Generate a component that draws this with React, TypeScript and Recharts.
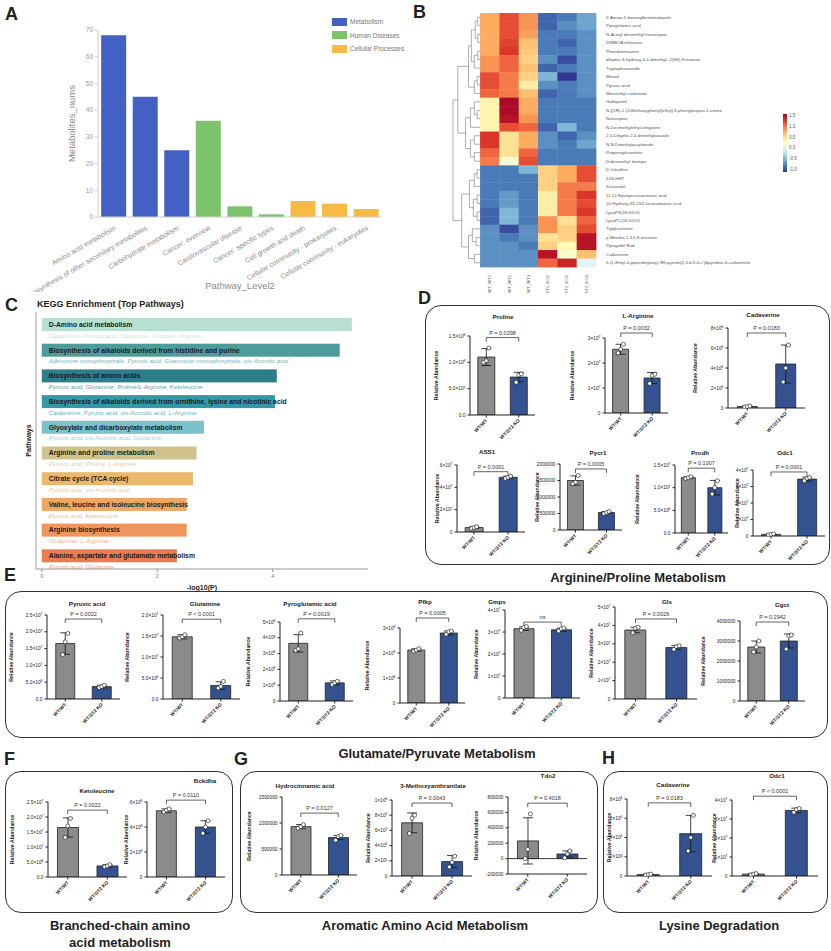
import React from "react";
import {
  BarChart,
  Bar,
  XAxis,
  YAxis,
  Cell,
  ComposedChart,
  Scatter,
  ScatterChart,
  ErrorBar,
  ReferenceLine,
} from "recharts";

const FONT = "'Liberation Sans', Arial, Helvetica, sans-serif";
const INK = "#222";
const WT_FILL = "#8b8b8b";
const KO_FILL = "#34528f";

// ---------- A: KEGG level-2 counts ----------
const level2Names = [
  "Amino acid metabolism",
  "Biosynthesis of other secondary metabolites",
  "Carbohydrate metabolism",
  "Cancer: overview",
  "Cardiovascular disease",
  "Cancer: specific types",
  "Cell growth and death",
  "Cellular community - prokaryotes",
  "Cellular community - eukaryotes",
];
const level2Counts = [68, 45, 25, 36, 4, 1, 6, 5, 3];
const level2Class = [
  "Metabolism", "Metabolism", "Metabolism",
  "Human Diseases", "Human Diseases", "Human Diseases",
  "Cellular Processes", "Cellular Processes", "Cellular Processes",
];
const level1Names = ["Metabolism", "Human Diseases", "Cellular Processes"];
const level1Colors = ["#4361c3", "#7dc36b", "#f6ba45"];

// ---------- B: heatmap ----------
const heatRows = [
  "2-Amino-5-benzoylbenzimidazole",
  "Pyroglutamic acid",
  "N-Acetyl desmethyl frovatriptan",
  "DIMBOA trihexose",
  "Phendimetrazine",
  "dihydro-3-hydroxy-4,4-dimethyl- 2(3H)-Furanone",
  "Tryptophanamide",
  "Mioxol",
  "Pyruvic acid",
  "Monoethyl carbonate",
  "Gallopamil",
  "N-[(1R)-1-(3-Methoxyphenyl)ethyl]-3-phenylpropan-1-amine",
  "Naratriptan",
  "N-Desmethylethyl-rotigotine",
  "2,5-Dihydro-2,4-dimethyloxazole",
  "N,N-Dimethylacrylamide",
  "Propenoylcarnitine",
  "Didesmethyl doxepin",
  "D-Citrulline",
  "12S-HHT",
  "Sclareolol",
  "11,12-Epoxyeicosatrienoic acid",
  "20-Hydroxy-6Z,15Z-eicosadienoic acid",
  "LysoPS(18:0/0:0)",
  "LysoPC(16:0/0:0)",
  "Tiglylcarnitine",
  "p-Mentha-1,3,5,8-tetraene",
  "Pyrogallol Red",
  "Cadaverine",
  "5-(1-Ethyl-4-piperidinyloxy)-9H-pyrrolo[2,3-b:5,4-c']dipyridine-6-carbonitrile",
];
const heatCols = ["WT_WT1", "WT_WT2", "WT_WT3", "ST2_KO1", "ST2_KO2", "ST2_KO3"];
const heatZ = [
  [0.8, 1.2, 0.9, -0.9, -0.8, -0.6],
  [0.8, 1.2, 0.9, -0.9, -0.7, -0.6],
  [0.8, 1.2, 0.85, -0.8, -0.8, -0.7],
  [0.8, 1.25, 0.7, -0.8, -0.9, -0.7],
  [0.8, 1.3, 0.65, -0.8, -0.8, -0.7],
  [0.9, 1.1, 0.6, -0.7, -1.0, -0.7],
  [0.9, 1.1, 0.7, -0.9, -0.8, -0.7],
  [1.2, 1.0, 0.6, -0.5, -1.1, -0.7],
  [1.2, 1.0, 0.4, -0.7, -0.8, -0.7],
  [1.1, 1.0, 0.7, -0.9, -0.8, -0.7],
  [0.35, 1.55, 0.8, -0.8, -0.8, -0.8],
  [0.35, 1.55, 0.8, -0.8, -0.8, -0.8],
  [0.35, 1.5, 0.9, -0.8, -0.8, -0.8],
  [0.35, 1.2, 1.1, -0.9, -0.5, -0.8],
  [1.3, 0.5, 0.8, -0.7, -0.9, -0.7],
  [1.3, 0.5, 0.8, -0.7, -0.8, -0.6],
  [1.1, 0.5, 1.1, -0.8, -0.8, -0.8],
  [1.0, 0.15, 1.2, -0.8, -0.8, -0.8],
  [-0.8, -0.8, -0.5, 0.6, 0.8, 1.2],
  [-0.8, -0.8, -0.8, 0.6, 0.8, 1.2],
  [-0.8, -0.8, -0.8, 0.6, 1.0, 1.0],
  [-0.8, -0.65, -0.8, 0.4, 1.0, 1.3],
  [-0.8, -0.65, -0.8, 0.4, 1.0, 1.2],
  [-0.9, -0.5, -0.8, 0.4, 1.0, 1.3],
  [-0.9, -0.5, -0.8, 0.9, 0.5, 1.1],
  [-0.7, -1.0, -0.7, 0.9, 0.6, 1.2],
  [-0.7, -0.8, -0.7, 0.5, 0.6, 1.5],
  [-0.7, -0.7, -0.8, 0.6, 0.3, 1.5],
  [-0.7, -0.7, -0.7, 1.5, 0.2, 0.7],
  [-0.7, -0.7, -0.7, 1.1, 1.4, 0.0],
];
type Tree = number | [number, Tree, Tree];
const dendroTop: Tree = [
  1.15,
  [0.6, [0.45, [0.25, [0.12, 0, 1], [0.12, 2, 3]], [0.3, [0.12, 4, 5], 6]], [0.3, [0.15, 7, 8], 9]],
  [0.75, [0.5, [0.3, 10, [0.15, 11, 12]], 13], [0.5, [0.3, 14, 15], [0.3, 16, 17]]],
];
const dendroBottom: Tree = [
  0.95,
  [0.55, [0.3, [0.15, 18, 19], 20], [0.35, [0.15, 21, 22], [0.15, 23, 24]]],
  [0.6, [0.4, 25, [0.2, 26, 27]], [0.3, 28, 29]],
];
const dendrogram: Tree = [1.4, dendroTop, dendroBottom];
const heatStops = ["#313695", "#4575b4", "#74add1", "#abd9e9", "#e0f3f8", "#ffffbf", "#fee090", "#fdae61", "#f46d43", "#d73027", "#a50026"];
const colorbarTicks = [1.5, 1.0, 0.5, 0.0, -0.5, -1.0];

// ---------- C: KEGG enrichment ----------
const keggPathways = [
  "D-Amino acid metabolism",
  "Biosynthesis of alkaloids derived from histidine and purine",
  "Biosynthesis of amino acids",
  "Biosynthesis of alkaloids derived from ornithine, lysine and nicotinic acid",
  "Glyoxylate and dicarboxylate metabolism",
  "Arginine and proline metabolism",
  "Citrate cycle (TCA cycle)",
  "Valine, leucine and isoleucine biosynthesis",
  "Arginine biosynthesis",
  "Alanine, aspartate and glutamate metabolism",
];
const keggLogP = [5.37, 5.16, 4.07, 4.04, 2.81, 2.68, 2.62, 2.51, 2.51, 2.34];
const keggHits = [
  "Cadaverine, Pyruvic acid, Glutamine, Proline/L-Arginine",
  "Adenosine monophosphate, Pyruvic acid, Guanosine monophosphate, cis-Aconitic acid",
  "Pyruvic acid, Glutamine, Proline/L-Arginine, Ketoleucine",
  "Cadaverine, Pyruvic acid, cis-Aconitic acid, L-Arginine",
  "Pyruvic acid, cis-Aconitic acid, Glutamine",
  "Pyruvic acid, Proline, L-Arginine",
  "Pyruvic acid, cis-Aconitic acid",
  "Pyruvic acid, Ketoleucine",
  "Glutamine, L-Arginine",
  "Pyruvic acid, Glutamine",
];
const keggPalette = ["#b7e0d1", "#4d9c9b", "#2c7e8b", "#3598a8", "#7cc2c9", "#d0c28b", "#eab76b", "#eea663", "#ee965b", "#eb7c51"];

// ---------- D-H: group abundances ----------
const WT = "WT/WT";
const KO = "WT/ST2 KO";
type Grp = { group: string; mean: number; sd: number; pts: number[] };

const proline: Grp[] = [
  { group: WT, mean: 1.1e8, sd: 1.6e7, pts: [1.0e8, 1.03e8, 1.27e8] },
  { group: KO, mean: 7.2e7, sd: 9e6, pts: [6.2e7, 7.6e7, 7.8e7] },
];
const arginine: Grp[] = [
  { group: WT, mean: 2.55e7, sd: 2e6, pts: [2.4e7, 2.55e7, 2.75e7] },
  { group: KO, mean: 1.4e7, sd: 2.2e6, pts: [1.18e7, 1.5e7, 1.55e7] },
];
const cadaverine: Grp[] = [
  { group: WT, mean: 1.5e5, sd: 5e4, pts: [1e5, 1.5e5, 2e5] },
  { group: KO, mean: 4.4e6, sd: 1.9e6, pts: [2.6e6, 4.0e6, 6.3e6] },
];
const ass1: Grp[] = [
  { group: WT, mean: 4e6, sd: 8e5, pts: [3.4e6, 4e6, 4.6e6] },
  { group: KO, mean: 4.9e7, sd: 1e6, pts: [4.8e7, 4.9e7, 5.0e7] },
];
const pycr1: Grp[] = [
  { group: WT, mean: 1.5e6, sd: 1.4e5, pts: [1.4e6, 1.45e6, 1.65e6] },
  { group: KO, mean: 5.3e5, sd: 3e4, pts: [5e5, 5.3e5, 5.6e5] },
];
const prodh: Grp[] = [
  { group: WT, mean: 1.22e7, sd: 2e5, pts: [1.2e7, 1.22e7, 1.24e7] },
  { group: KO, mean: 1.0e7, sd: 1.6e6, pts: [0.86e7, 1.0e7, 1.15e7] },
];
const odc1: Grp[] = [
  { group: WT, mean: 1e6, sd: 3e5, pts: [7e5, 1e6, 1.3e6] },
  { group: KO, mean: 3.45e7, sd: 1.2e6, pts: [3.35e7, 3.5e7, 3.55e7] },
];
const pyruvate: Grp[] = [
  { group: WT, mean: 1.65e7, sd: 3.2e6, pts: [1.32e7, 1.7e7, 1.95e7] },
  { group: KO, mean: 3.7e6, sd: 4e5, pts: [3.4e6, 3.7e6, 4.1e6] },
];
const glutamine: Grp[] = [
  { group: WT, mean: 1.48e7, sd: 5e5, pts: [1.45e7, 1.48e7, 1.53e7] },
  { group: KO, mean: 3.2e6, sd: 9e5, pts: [2.6e6, 3.0e6, 4.2e6] },
];
const pyroglutamate: Grp[] = [
  { group: WT, mean: 3.65e8, sd: 5.5e7, pts: [3.2e8, 3.3e8, 4.3e8] },
  { group: KO, mean: 1.15e8, sd: 1.2e7, pts: [1.05e8, 1.15e8, 1.25e8] },
];
const pfkp: Grp[] = [
  { group: WT, mean: 2.12e8, sd: 5e6, pts: [2.07e8, 2.12e8, 2.17e8] },
  { group: KO, mean: 2.8e8, sd: 8e6, pts: [2.75e8, 2.85e8, 2.88e8] },
];
const gmps: Grp[] = [
  { group: WT, mean: 3.15e7, sd: 8e5, pts: [3.08e7, 3.2e7, 3.25e7] },
  { group: KO, mean: 3.1e7, sd: 7e5, pts: [3.05e7, 3.15e7, 3.18e7] },
];
const gls: Grp[] = [
  { group: WT, mean: 3.75e7, sd: 1.5e6, pts: [3.6e7, 3.85e7, 3.9e7] },
  { group: KO, mean: 2.8e7, sd: 1e6, pts: [2.7e7, 2.85e7, 2.9e7] },
];
const ggct: Grp[] = [
  { group: WT, mean: 2.7e6, sd: 3e5, pts: [2.45e6, 2.7e6, 3.0e6] },
  { group: KO, mean: 3.0e6, sd: 3.5e5, pts: [2.6e6, 3.25e6, 3.3e6] },
];
const ketoleucine: Grp[] = [
  { group: WT, mean: 1.65e7, sd: 3.2e6, pts: [1.32e7, 1.7e7, 1.95e7] },
  { group: KO, mean: 3.7e6, sd: 4e5, pts: [3.4e6, 3.7e6, 4.1e6] },
];
const bckdha: Grp[] = [
  { group: WT, mean: 5.3e8, sd: 1.5e7, pts: [5.2e8, 5.35e8, 5.45e8] },
  { group: KO, mean: 4.0e8, sd: 5e7, pts: [3.5e8, 4.0e8, 4.5e8] },
];
const hydrocinnamate: Grp[] = [
  { group: WT, mean: 9.3e5, sd: 4e4, pts: [9e5, 9.3e5, 9.7e5] },
  { group: KO, mean: 7.2e5, sd: 4e4, pts: [6.7e5, 7.4e5, 7.6e5] },
];
const methoxyanthranilate: Grp[] = [
  { group: WT, mean: 7.0e5, sd: 1.3e5, pts: [5.6e5, 7.6e5, 8.0e5] },
  { group: KO, mean: 1.9e5, sd: 8e4, pts: [1.2e5, 1.8e5, 2.6e5] },
];
const tdo2: Grp[] = [
  { group: WT, mean: 2.3e5, sd: 3e5, pts: [0, 1.2e5, 5.8e5] },
  { group: KO, mean: 6e4, sd: 4e4, pts: [1e4, 6e4, 1e5] },
];

type MiniCfg = {
  title: string;
  data: Grp[];
  ticks: number[];
  fmt: "sci0" | "sci1" | "plain";
  p: string;
  bracket: number;
  zero?: boolean;
  // axis x, top tick y, bottom tick y, axis end x, title x, title y, y-label gap
  at: number[];
};

const miniCharts: MiniCfg[] = [
  { title: "Proline", data: proline, ticks: [0, 5e7, 1e8, 1.5e8], fmt: "sci1", p: "P = 0.0298", bracket: 1.47e8, at: [470, 336, 415, 535, 503, 316, 33] },
  { title: "L-Arginine", data: arginine, ticks: [0, 1e7, 2e7, 3e7], fmt: "sci0", p: "P = 0.0032", bracket: 3.2e7, at: [605, 338, 413, 668, 638, 315, 32] },
  { title: "Cadaverine", data: cadaverine, ticks: [0, 2e6, 4e6, 6e6, 8e6], fmt: "sci0", p: "P = 0.0183", bracket: 7.5e6, at: [728, 328, 408, 805, 763, 314, 32] },
  { title: "ASS1", data: ass1, ticks: [0, 2e7, 4e7, 6e7], fmt: "sci0", p: "P = 0.0001", bracket: 5.4e7, at: [457, 465, 532, 525, 487, 451, 19] },
  { title: "Pycr1", data: pycr1, ticks: [0, 500000, 1000000, 1500000, 2000000], fmt: "plain", p: "P = 0.0005", bracket: 1.85e6, at: [560, 464, 530, 622, 598, 452, 22] },
  { title: "Prodh", data: prodh, ticks: [0, 5e6, 1e7, 1.5e7], fmt: "sci1", p: "P = 0.1007", bracket: 1.43e7, at: [675, 465, 533, 728, 700, 452, 37] },
  { title: "Odc1", data: odc1, ticks: [0, 1e7, 2e7, 3e7, 4e7], fmt: "sci0", p: "P = 0.0001", bracket: 3.88e7, at: [753, 470, 536, 825, 785, 452, 15] },
  { title: "Pyruvic acid", data: pyruvate, ticks: [0, 5e6, 1e7, 1.5e7, 2e7, 2.5e7], fmt: "sci1", p: "P = 0.0022", bracket: 2.38e7, at: [47, 615, 699, 120, 87, 603, 35] },
  { title: "Glutamine", data: glutamine, ticks: [0, 5e6, 1e7, 1.5e7, 2e7], fmt: "sci1", p: "P < 0.0001", bracket: 1.9e7, at: [163, 615, 699, 240, 205, 603, 35] },
  { title: "Pyroglutamic acid", data: pyroglutamate, ticks: [0, 1e8, 2e8, 3e8, 4e8, 5e8], fmt: "sci0", p: "P = 0.0019", bracket: 5.2e8, at: [280, 622, 701, 353, 310, 603, 31] },
  { title: "Pfkp", data: pfkp, ticks: [0, 1e8, 2e8, 3e8], fmt: "sci0", p: "P = 0.0005", bracket: 3.4e8, at: [400, 628, 703, 465, 425, 601, 32] },
  { title: "Gmps", data: gmps, ticks: [0, 1e7, 2e7, 3e7, 4e7], fmt: "sci0", p: "ns", bracket: 3.45e7, at: [505, 610, 698, 580, 497, 601, 28] },
  { title: "Gls", data: gls, ticks: [0, 1e7, 2e7, 3e7, 4e7, 5e7], fmt: "sci0", p: "P = 0.0026", bracket: 4.35e7, at: [615, 607, 699, 697, 667, 601, 23] },
  { title: "Ggct", data: ggct, ticks: [0, 1000000, 2000000, 3000000, 4000000], fmt: "plain", p: "P = 0.2942", bracket: 3.95e6, at: [740, 621, 701, 805, 782, 604, 36] },
  { title: "Ketoleucine", data: ketoleucine, ticks: [0, 5e6, 1e7, 1.5e7, 2e7, 2.5e7], fmt: "sci1", p: "P = 0.0022", bracket: 2.23e7, at: [48, 802, 877, 127, 97, 790, 35] },
  { title: "Bckdha", data: bckdha, ticks: [0, 2e8, 4e8, 6e8], fmt: "sci0", p: "P = 0.0110", bracket: 6.15e8, at: [147, 802, 877, 225, 205, 780, 20] },
  { title: "Hydrocinnamic acid", data: hydrocinnamate, ticks: [0, 500000, 1000000, 1500000], fmt: "plain", p: "P = 0.0127", bracket: 1.19e6, at: [282, 797, 875, 357, 305, 785, 32] },
  { title: "3-Methoxyanthranilate", data: methoxyanthranilate, ticks: [0, 2e5, 4e5, 6e5, 8e5, 1e6], fmt: "sci0", p: "P = 0.0043", bracket: 9.6e5, at: [392, 800, 876, 472, 433, 785, 23] },
  { title: "Tdo2", data: tdo2, ticks: [-200000, 0, 200000, 400000, 600000, 800000], fmt: "plain", p: "P = 0.4018", bracket: 7.2e5, zero: true, at: [508, 797, 874, 587, 548, 775, 31] },
  { title: "Cadaverine", data: cadaverine, ticks: [0, 2e6, 4e6, 6e6, 8e6], fmt: "sci0", p: "P = 0.0183", bracket: 7.6e6, at: [627, 799, 876, 712, 673, 784, 17] },
  { title: "Odc1", data: odc1, ticks: [0, 1e7, 2e7, 3e7, 4e7], fmt: "sci0", p: "P < 0.0001", bracket: 4.2e7, at: [732, 800, 876, 818, 777, 775, 17] },
];

// ---------- helpers ----------
function sciParts(v: number, dec: number) {
  const e = Math.floor(Math.log10(Math.abs(v)) + 1e-9);
  const m = v / Math.pow(10, e);
  return { m: m.toFixed(dec), e: String(e) };
}

function hexToRgb(h: string) {
  return [1, 3, 5].map((i) => parseInt(h.slice(i, i + 2), 16));
}
function heatColor(z: number) {
  const t = Math.max(0, Math.min(1, (z + 1.1) / 2.7)) * (heatStops.length - 1);
  const i = Math.min(heatStops.length - 2, Math.floor(t));
  const f = t - i;
  const a = hexToRgb(heatStops[i]);
  const b = hexToRgb(heatStops[i + 1]);
  const c = a.map((v, k) => Math.round(v + (b[k] - v) * f));
  return `rgb(${c[0]},${c[1]},${c[2]})`;
}

type Pt = { x: number; y: number };
function layoutTree(t: Tree, out: Pt[][]): { y: number; h: number } {
  if (typeof t === "number") return { y: t + 0.5, h: 0 };
  const [h, a, b] = t;
  const A = layoutTree(a, out);
  const B = layoutTree(b, out);
  out.push([{ x: -h, y: A.y }, { x: -h, y: B.y }]);
  out.push([{ x: -h, y: A.y }, { x: -A.h, y: A.y }]);
  out.push([{ x: -h, y: B.y }, { x: -B.h, y: B.y }]);
  return { y: (A.y + B.y) / 2, h };
}

// ---------- panels ----------
function PanelA() {
  const rows = level2Names.map((name, i) => ({ name, value: level2Counts[i], cls: level2Class[i] }));
  return (
    <>
      <div style={{ position: "absolute", left: 0, top: 20 }}>
        <BarChart width={390} height={272} data={rows} margin={{ top: 10, right: 8, left: 60, bottom: 0 }} barCategoryGap="10%">
          <XAxis
            dataKey="name"
            interval={0}
            angle={-30}
            textAnchor="end"
            height={75}
            stroke="#cfcfcf"
            tickLine={false}
            tick={{ fontSize: 7, fill: "#8a8a8a" }}
            label={{ value: "Pathway_Level2", position: "insideBottom", offset: 3, fontSize: 9.5, fill: "#8a8a8a" }}
          />
          <YAxis
            domain={[0, 70]}
            ticks={[0, 10, 20, 30, 40, 50, 60, 70]}
            width={38}
            stroke="#cfcfcf"
            tickSize={3}
            tick={{ fontSize: 6.5, fill: "#9a9a9a" }}
            label={{ value: "Metabolites_nums", angle: -90, position: "center", dx: -7, fontSize: 9.5, fill: "#8a8a8a" }}
          />
          <Bar dataKey="value" isAnimationActive={false}>
            {rows.map((r, i) => (
              <Cell key={i} fill={level1Colors[level1Names.indexOf(r.cls)]} />
            ))}
          </Bar>
        </BarChart>
      </div>
      <div style={{ position: "absolute", left: 332, top: 15, fontSize: 6.5, color: "#777" }}>
        {level1Names.map((n, i) => (
          <div key={n} style={{ display: "flex", alignItems: "center", height: 13.5 }}>
            <span style={{ width: 15, height: 8, background: level1Colors[i], marginRight: 3 }} />
            {n}
          </div>
        ))}
      </div>
    </>
  );
}

const CELL_W = 143 / 7.4;
const CELL_H = 254 / 30;
function HeatCell(props: any) {
  const { cx, cy, payload } = props;
  return <rect x={cx - CELL_W / 2} y={cy - CELL_H / 2} width={CELL_W + 0.4} height={CELL_H + 0.4} fill={heatColor(payload.z)} />;
}

function RowTick(props: any) {
  const { x, y, payload } = props;
  return (
    <text x={x + 2} y={y} dy="0.35em" fontSize={4.4} fill="#555" textAnchor="start">
      {heatRows[Math.floor(payload.value)]}
    </text>
  );
}

function ColTick(props: any) {
  const { x, y, payload } = props;
  return (
    <text x={x} y={y} dy="0.35em" fontSize={4.2} fill="#666" textAnchor="end" transform={`rotate(-90 ${x} ${y})`}>
      {heatCols[Math.floor(payload.value)]}
    </text>
  );
}

function PanelB() {
  const cells = heatZ.flatMap((row, r) => row.map((z, c) => ({ x: c + 0.5, y: r + 0.5, z })));
  const segs: Pt[][] = [];
  layoutTree(dendrogram, segs);
  const colTicks = heatCols.map((_, i) => i + 0.5);
  const rowTicks = heatRows.map((_, i) => i + 0.5);
  const grad = [...heatStops].reverse().join(",");
  return (
    <>
      <div style={{ position: "absolute", left: 445, top: 5 }}>
        <ScatterChart width={351} height={292} margin={{ top: 8, right: 0, left: 8, bottom: 0 }}>
          <XAxis
            type="number"
            dataKey="x"
            domain={[-1.4, 6]}
            ticks={colTicks}
            interval={0}
            height={30}
            axisLine={false}
            tickLine={false}
            tick={ColTick}
          />
          <YAxis
            type="number"
            dataKey="y"
            orientation="right"
            reversed
            domain={[0, 30]}
            ticks={rowTicks}
            interval={0}
            width={200}
            axisLine={false}
            tickLine={false}
            tick={RowTick}
          />
          <Scatter data={cells} isAnimationActive={false} shape={HeatCell} />
          {segs.map((s, i) => (
            <ReferenceLine key={i} segment={s} stroke="#777" strokeWidth={0.6} ifOverflow="visible" />
          ))}
        </ScatterChart>
      </div>
      <div style={{ position: "absolute", left: 783, top: 114, width: 4, height: 58, background: `linear-gradient(to bottom, ${grad})` }} />
      {colorbarTicks.map((t) => (
        <div key={t} style={{ position: "absolute", left: 789, top: 114 + ((1.6 - t) / 2.7) * 58 - 3, fontSize: 4.5, color: "#555", lineHeight: "6px" }}>
          {t.toFixed(1)}
        </div>
      ))}
    </>
  );
}

function KeggBar(props: any) {
  const { x, y, width, height, payload } = props;
  const color = keggPalette[payload.i];
  return (
    <g>
      <rect x={x} y={y} width={width} height={height} fill={color} />
      <text x={x + 7} y={y + height / 2} dy="0.35em" fontSize={6.8} fontWeight="bold" fill="#1b1b1b">
        {payload.name}
      </text>
      <text x={x + 7} y={y + height + 4.5} dy="0.35em" fontSize={6.2} fontStyle="italic" fill={color} fillOpacity={0.8}>
        {payload.hits}
      </text>
    </g>
  );
}

function PanelC() {
  const rows = keggPathways.map((name, i) => ({ name, v: keggLogP[i], hits: keggHits[i], i }));
  return (
    <>
      <div style={{ position: "absolute", left: 37, top: 299, fontSize: 9, fontWeight: "bold", whiteSpace: "nowrap" }}>
        KEGG Enrichment (Top Pathways)
      </div>
      <div style={{ position: "absolute", left: 0, top: 300 }}>
        <BarChart layout="vertical" width={378} height={294} data={rows} margin={{ top: 12, right: 10, left: 0, bottom: 0 }}>
          <XAxis
            type="number"
            domain={[-0.1, 5.65]}
            ticks={[0, 2, 4]}
            allowDataOverflow
            height={25}
            stroke="#9a9a9a"
            tickSize={3}
            tick={{ fontSize: 5.5, fill: "#777" }}
            label={{ value: "-log10(P)", position: "insideBottom", offset: 4, fontSize: 7, fontWeight: "bold", fill: INK }}
          />
          <YAxis
            type="category"
            dataKey="name"
            width={36}
            tick={false}
            tickLine={false}
            stroke="#9a9a9a"
            label={{ value: "Pathways", angle: -90, position: "center", dx: 11, fontSize: 7, fontWeight: "bold", fill: INK }}
          />
          <Bar dataKey="v" barSize={13} isAnimationActive={false} shape={KeggBar} />
        </BarChart>
      </div>
    </>
  );
}

function GroupTick(props: any) {
  const { x, y, payload } = props;
  return (
    <text x={x} y={y} dy={2} fontSize={4.8} fontWeight="bold" fill={INK} textAnchor="end" transform={`rotate(-45 ${x} ${y})`}>
      {payload.value}
    </text>
  );
}

function makeValueTick(fmt: MiniCfg["fmt"]) {
  return function ValueTick(props: any) {
    const { x, y, payload } = props;
    const v = payload.value as number;
    const common = { x, y, dy: "0.35em", fontSize: 4.8, fill: INK, textAnchor: "end" as const };
    if (fmt === "plain") return <text {...common}>{String(v)}</text>;
    if (v === 0) return <text {...common}>{fmt === "sci1" ? "0.0" : "0"}</text>;
    const { m, e } = sciParts(v, fmt === "sci1" ? 1 : 0);
    return (
      <text {...common}>
        {m}×10
        <tspan dy={-1.8} fontSize={3.4}>
          {e}
        </tspan>
      </text>
    );
  };
}

function MiniBars({ cfg }: { cfg: MiniCfg }) {
  const [ax, yTop, yBot, xEnd, , , gap] = cfg.at;
  const MT = 22;
  const XH = 34;
  const MR = 4;
  const YW = gap + 5;
  const lo = cfg.ticks[0];
  const hi = cfg.ticks[cfg.ticks.length - 1];
  const drop = ((hi - lo) * 4) / (yBot - yTop);
  const rows = cfg.data.map((d) => ({ group: d.group, mean: d.mean, sd: d.sd, p1: d.pts[0], p2: d.pts[1], p3: d.pts[2] }));
  const g0 = rows[0].group;
  const g1 = rows[1].group;
  const line = { stroke: INK, strokeWidth: 0.7, ifOverflow: "visible" as const };
  return (
    <div style={{ position: "absolute", left: ax - YW, top: yTop - MT }}>
      <ComposedChart
        width={YW + (xEnd - ax) + MR}
        height={MT + (yBot - yTop) + XH}
        data={rows}
        margin={{ top: MT, right: MR, left: 0, bottom: 0 }}
        barCategoryGap="24%"
      >
        <XAxis dataKey="group" interval={0} height={XH} stroke={INK} tickSize={2.5} tick={GroupTick} />
        <YAxis
          type="number"
          domain={[lo, hi]}
          ticks={cfg.ticks}
          interval={0}
          allowDataOverflow
          width={YW}
          stroke={INK}
          tickSize={2.5}
          tick={makeValueTick(cfg.fmt)}
          label={{ value: "Relative Abundance", angle: -90, position: "center", dx: 4 - YW / 2, fontSize: 5.2, fontWeight: "bold", fill: INK }}
        />
        {cfg.zero && <ReferenceLine y={0} stroke={INK} strokeWidth={0.9} />}
        <Bar dataKey="mean" isAnimationActive={false} stroke={INK} strokeWidth={0.8}>
          {rows.map((_, i) => (
            <Cell key={i} fill={i === 0 ? WT_FILL : KO_FILL} />
          ))}
          <ErrorBar dataKey="sd" width={5} stroke="#111" strokeWidth={0.8} />
        </Bar>
        {["p1", "p2", "p3"].map((k, j) => (
          <Scatter
            key={k}
            dataKey={k}
            isAnimationActive={false}
            shape={(p: any) => <circle cx={p.cx + (j - 1) * 2.6} cy={p.cy} r={2} fill="#fff" stroke="#111" strokeWidth={0.6} />}
          />
        ))}
        <ReferenceLine
          segment={[{ x: g0, y: cfg.bracket }, { x: g1, y: cfg.bracket }]}
          {...line}
          label={{ value: cfg.p, position: "top", offset: 3, fontSize: 5.5, fill: "#333" }}
        />
        <ReferenceLine segment={[{ x: g0, y: cfg.bracket }, { x: g0, y: cfg.bracket - drop }]} {...line} />
        <ReferenceLine segment={[{ x: g1, y: cfg.bracket }, { x: g1, y: cfg.bracket - drop }]} {...line} />
      </ComposedChart>
    </div>
  );
}

const miniTitle = (cfg: MiniCfg, i: number) => (
  <div
    key={`t${i}`}
    style={{
      position: "absolute",
      left: cfg.at[4],
      top: cfg.at[5],
      transform: "translate(-50%,-50%)",
      fontSize: 6.2,
      fontWeight: "bold",
      whiteSpace: "nowrap",
      color: INK,
    }}
  >
    {cfg.title}
  </div>
);

const letter = (ch: string, left: number, top: number) => (
  <div key={ch} style={{ position: "absolute", left, top, fontSize: 18, fontWeight: "bold", lineHeight: 1 }}>
    {ch}
  </div>
);

const box = (left: number, top: number, right: number, bottom: number) => (
  <div
    style={{
      position: "absolute",
      left,
      top,
      width: right - left,
      height: bottom - top,
      border: "1.5px solid #333",
      borderRadius: 16,
      boxSizing: "border-box",
    }}
  />
);

const heading = (text: string, cx: number, cy: number) => (
  <div
    style={{
      position: "absolute",
      left: cx,
      top: cy,
      transform: "translate(-50%,-50%)",
      fontSize: 13,
      fontWeight: "bold",
      textAlign: "center",
      lineHeight: "17px",
      whiteSpace: "pre",
    }}
  >
    {text}
  </div>
);

export default function App() {
  return (
    <div
      style={{
        position: "absolute",
        left: 0,
        top: 0,
        width: 831,
        height: 951,
        background: "#fff",
        fontFamily: FONT,
        color: INK,
        overflow: "hidden",
      }}
    >
      {box(425, 305, 830, 565)}
      {box(5, 591, 828, 738)}
      {box(5, 771, 233, 913)}
      {box(240, 771, 598, 913)}
      {box(603, 771, 828, 913)}

      <PanelA />
      <PanelB />
      <PanelC />
      {miniCharts.map((c, i) => (
        <MiniBars key={i} cfg={c} />
      ))}
      {miniCharts.map(miniTitle)}

      {letter("A", 5, 5)}
      {letter("B", 413, 3)}
      {letter("C", 5, 296)}
      {letter("D", 418, 289)}
      {letter("E", 4, 566)}
      {letter("F", 4, 750)}
      {letter("G", 234, 750)}
      {letter("H", 602, 749)}

      {heading("Arginine/Proline Metabolism", 638, 577)}
      {heading("Glutamate/Pyruvate Metabolism", 437, 753)}
      {heading("Branched-chain amino\nacid metabolism", 120, 934)}
      {heading("Aromatic Amino Acid Metabolism", 425, 925)}
      {heading("Lysine Degradation", 719, 925)}
    </div>
  );
}
